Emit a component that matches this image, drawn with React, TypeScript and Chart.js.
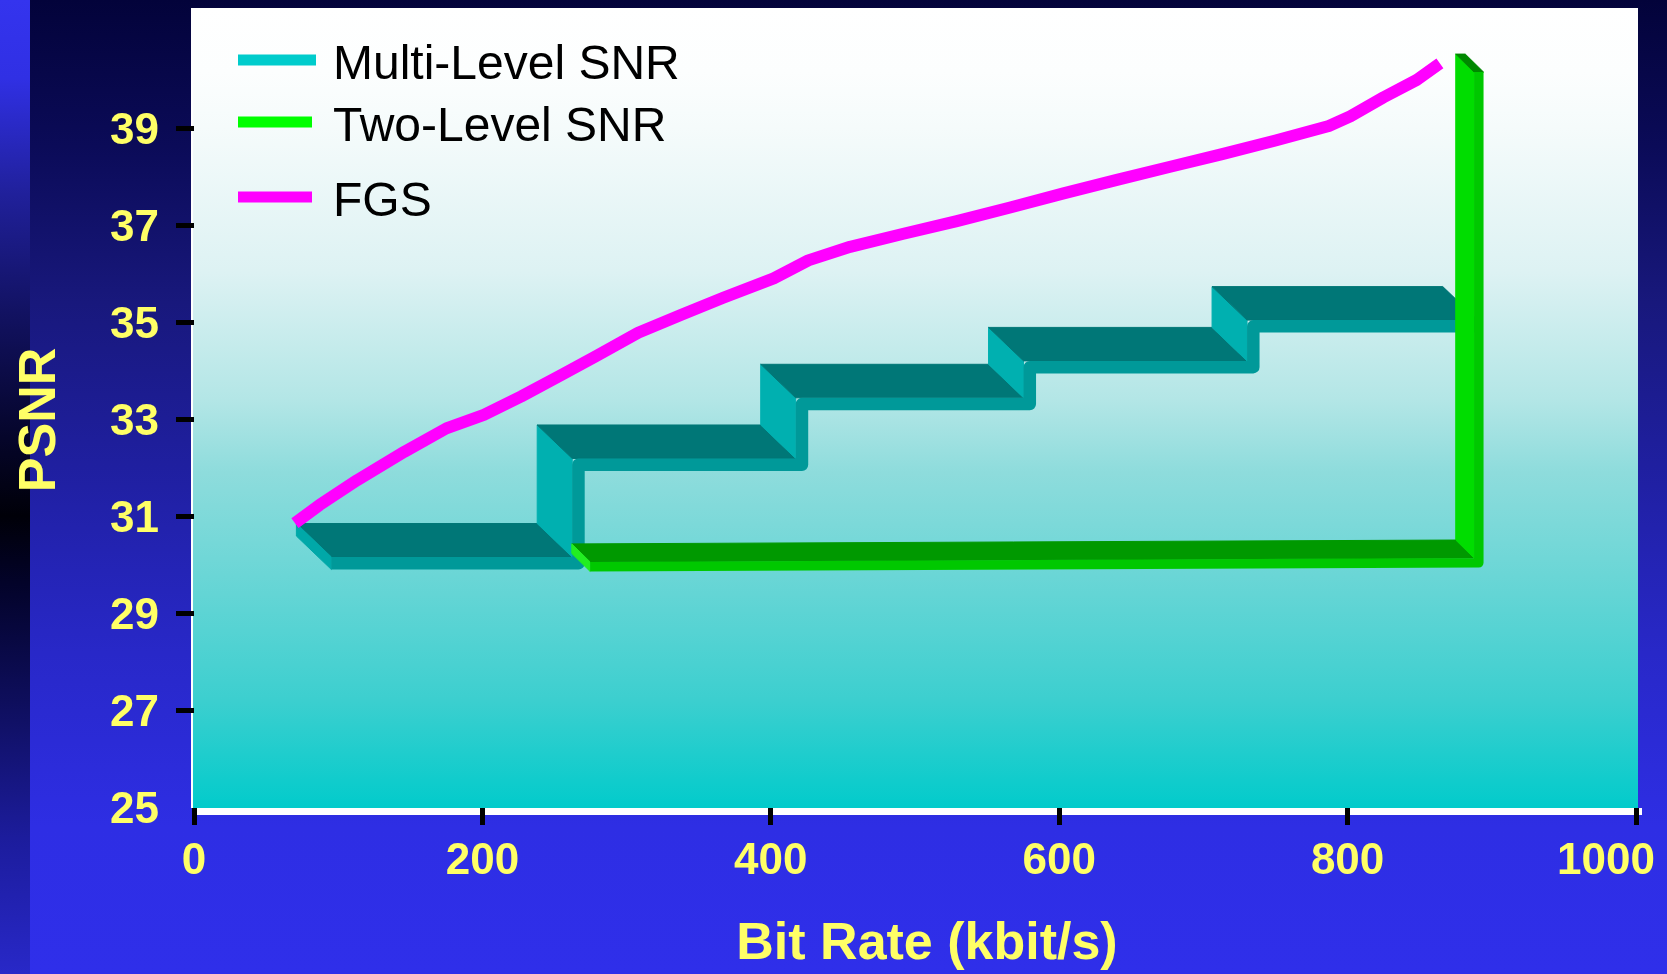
import React, { useEffect, useRef } from "react";
import { Chart, registerables } from "chart.js";

Chart.register(...registerables);

// Axis tick values
const X_TICKS = [0, 200, 400, 600, 800, 1000];
const Y_TICKS = [25, 27, 29, 31, 33, 35, 37, 39];

// Axis titles
const X_TITLE = "Bit Rate (kbit/s)";
const Y_TITLE = "PSNR";

// Multi-Level SNR: rate at which each layer starts / ends, and its PSNR plateau
const MULTI_RATES = [71, 238, 393, 551, 706, 866];
const MULTI_PSNR = [30.86, 32.89, 34.14, 34.9, 35.74];

// Two-Level SNR: base layer, then the jump to full quality
const TWO_RATES = [262, 875, 875];
const TWO_PSNR = [30.44, 30.52, 40.53];

// FGS: continuous rate/PSNR curve
const FGS_RATES = [70, 87, 113, 146, 175, 201, 227, 256, 279, 308, 338, 367, 402, 426, 455, 492, 529, 566, 603, 640, 677, 713, 750, 787, 802, 825, 848, 864];
const FGS_PSNR = [30.87, 31.24, 31.75, 32.34, 32.82, 33.1, 33.48, 33.94, 34.31, 34.79, 35.16, 35.51, 35.91, 36.28, 36.56, 36.83, 37.09, 37.37, 37.66, 37.94, 38.21, 38.47, 38.75, 39.05, 39.25, 39.64, 40.0, 40.34];

const FONT = '"Liberation Sans", Arial, Helvetica, sans-serif';
const YELLOW = "#ffff66";

type Pt = { x: number; y: number };

const stepPoints = (rates: number[], levels: number[]): Pt[] => {
  const pts: Pt[] = [];
  levels.forEach((v, i) => {
    pts.push({ x: rates[i], y: v });
    pts.push({ x: rates[i + 1], y: v });
  });
  return pts;
};

const zip = (xs: number[], ys: number[]): Pt[] => xs.map((x, i) => ({ x, y: ys[i] }));

// Slide background, the shaded back wall and the white floor edge
const backgroundPlugin = {
  id: "slideBackground",
  beforeDraw(chart: any) {
    const { ctx, width, height, chartArea } = chart;
    ctx.save();
    const g = ctx.createLinearGradient(0, 0, 0, height);
    g.addColorStop(0, "#03033a");
    g.addColorStop(0.15, "#0b0b58");
    g.addColorStop(0.31, "#18187c");
    g.addColorStop(0.5, "#2020a4");
    g.addColorStop(0.67, "#2828c8");
    g.addColorStop(0.85, "#2e2ee4");
    g.addColorStop(1, "#2f2fea");
    ctx.fillStyle = g;
    ctx.fillRect(0, 0, width, height);

    const s = ctx.createLinearGradient(0, 0, 0, height);
    s.addColorStop(0, "#3434ee");
    s.addColorStop(0.08, "#3030e4");
    s.addColorStop(0.2, "#20209a");
    s.addColorStop(0.32, "#121262");
    s.addColorStop(0.45, "#05052a");
    s.addColorStop(0.53, "#000008");
    s.addColorStop(0.6, "#03032a");
    s.addColorStop(0.72, "#0e0e5c");
    s.addColorStop(0.86, "#1c1c9c");
    s.addColorStop(1, "#2828c8");
    ctx.fillStyle = s;
    ctx.fillRect(0, 0, 30, height);

    const wl = chartArea.left - 2;
    const wr = chartArea.right + 2;
    const wt = 8;
    const wb = chartArea.bottom;
    const w = ctx.createLinearGradient(0, wt, 0, wb);
    w.addColorStop(0, "#ffffff");
    w.addColorStop(0.08, "#fcfefe");
    w.addColorStop(0.15, "#f5fbfb");
    w.addColorStop(0.33, "#ddf2f3");
    w.addColorStop(0.49, "#b3e6e6");
    w.addColorStop(0.58, "#8edcdc");
    w.addColorStop(0.71, "#6ad6d6");
    w.addColorStop(0.865, "#3ccfcf");
    w.addColorStop(1, "#02cbcb");
    ctx.fillStyle = w;
    ctx.fillRect(wl, wt, wr - wl, wb - wt);

    ctx.fillStyle = "#ffffff";
    ctx.fillRect(wl - 1, wt, 2, wb - wt);
    ctx.fillRect(wl, wb, wr - wl + 4, 7);
    ctx.restore();
  },
};

// Extruded "3-D ribbon" rendering for series that carry a ribbon style
const ribbonPlugin = {
  id: "ribbon3d",
  beforeDatasetsDraw(chart: any) {
    const ctx = chart.ctx;
    chart.data.datasets.forEach((ds: any, i: number) => {
      const r = ds.ribbon;
      if (!r) return;
      const pts: Pt[] = chart.getDatasetMeta(i).data.map((p: any) => ({ x: p.x, y: p.y }));
      if (pts.length < 2) return;
      const { dx, dy, t } = r;
      const segs = pts.slice(1).map((b, k) => {
        const a = pts[k];
        return Math.abs(b.y - a.y) > Math.abs(b.x - a.x) ? "v" : "h";
      });
      const quad = (a: Pt, b: Pt, c: Pt, d: Pt, color: string) => {
        ctx.fillStyle = color;
        ctx.strokeStyle = color;
        ctx.lineWidth = 1;
        ctx.beginPath();
        ctx.moveTo(a.x, a.y);
        ctx.lineTo(b.x, b.y);
        ctx.lineTo(c.x, c.y);
        ctx.lineTo(d.x, d.y);
        ctx.closePath();
        ctx.fill();
        ctx.stroke();
      };
      const add = (p: Pt, ox: number, oy: number): Pt => ({ x: p.x + ox, y: p.y + oy });

      ctx.save();
      // top faces (horizontal runs) and side faces (risers)
      segs.forEach((o, k) => {
        const a = pts[k];
        const b = pts[k + 1];
        quad(a, b, add(b, dx, dy), add(a, dx, dy), o === "v" ? r.side : r.top);
      });

      // visible end caps
      const first = pts[0];
      const n0 = segs[0] === "v" ? { x: t, y: 0 } : { x: 0, y: t };
      quad(first, add(first, dx, dy), add(first, dx + n0.x, dy + n0.y), add(first, n0.x, n0.y), r.cap);
      const last = pts[pts.length - 1];
      const prev = pts[pts.length - 2];
      if (segs[segs.length - 1] === "v" && last.y < prev.y) {
        quad(last, add(last, t, 0), add(last, dx + t, dy), add(last, dx, dy), r.capTop);
      }

      // front face: the thick band along the front edge
      const band = pts.map((p, k) => {
        const adj = [segs[k - 1], segs[k]].filter(Boolean);
        const ox = adj.includes("v") ? t / 2 : 0;
        const oy = adj.includes("h") ? t / 2 : 0;
        return add(p, dx + ox, dy + oy);
      });
      ctx.strokeStyle = r.front;
      ctx.lineWidth = t;
      ctx.lineJoin = "round";
      ctx.lineCap = "butt";
      ctx.beginPath();
      band.forEach((p, k) => (k === 0 ? ctx.moveTo(p.x, p.y) : ctx.lineTo(p.x, p.y)));
      ctx.stroke();
      ctx.restore();
    });
  },
};

// Rate labels (kept inside the slide edge) and both axis titles
const axisTextPlugin = {
  id: "axisText",
  afterDraw(chart: any) {
    const { ctx, width } = chart;
    const xs = chart.scales.x;
    ctx.save();
    ctx.fillStyle = YELLOW;
    ctx.font = `bold 44px ${FONT}`;
    ctx.textAlign = "center";
    ctx.textBaseline = "middle";
    X_TICKS.forEach((v) => {
      const label = String(v);
      const w = ctx.measureText(label).width;
      const px = Math.min(xs.getPixelForValue(v), width - 12 - w / 2);
      ctx.fillText(label, px, xs.top + 54);
    });

    ctx.font = `bold 52px ${FONT}`;
    ctx.fillText(X_TITLE, 927, 945);
    ctx.translate(41, 420);
    ctx.rotate(-Math.PI / 2);
    ctx.fillText(Y_TITLE, 0, 0);
    ctx.restore();
  },
};

// Legend drawn inside the plot wall, top-left
const LEGEND_ROW_Y = [60, 122, 197];
const legendPlugin = {
  id: "wallLegend",
  afterDraw(chart: any) {
    const ctx = chart.ctx;
    const left = chart.chartArea.left;
    ctx.save();
    ctx.font = `48px ${FONT}`;
    ctx.textBaseline = "alphabetic";
    ctx.textAlign = "left";
    chart.data.datasets.forEach((ds: any, i: number) => {
      const yc = LEGEND_ROW_Y[i];
      ctx.fillStyle = ds.legendColor;
      ctx.fillRect(left + 44, yc - 5.5, i === 0 ? 78 : 74, 11);
      ctx.fillStyle = "#000000";
      ctx.fillText(ds.label, left + 139, yc + 19);
    });
    ctx.restore();
  },
};

const noEdgePadding = (s: any) => {
  s.paddingLeft = 0;
  s.paddingRight = 0;
  s.paddingTop = 0;
  s.paddingBottom = 0;
};

export default function App() {
  const ref = useRef<HTMLCanvasElement>(null);

  useEffect(() => {
    if (!ref.current) return;
    const tickFont = { family: FONT, size: 44, weight: "bold" as const };

    const chart = new Chart(ref.current, {
      type: "line",
      data: {
        datasets: [
          {
            label: "Multi-Level SNR",
            data: stepPoints(MULTI_RATES, MULTI_PSNR),
            showLine: false,
            pointRadius: 0,
            legendColor: "#00cccc",
            ribbon: { dx: 35, dy: 33.5, t: 12.5, top: "#007777", side: "#00b0b0", front: "#009999", cap: "#00a8a8", capTop: "#006666" },
          } as any,
          {
            label: "Two-Level SNR",
            data: zip(TWO_RATES, TWO_PSNR),
            showLine: false,
            pointRadius: 0,
            legendColor: "#00ff00",
            ribbon: { dx: 18.3, dy: 18, t: 9.5, top: "#009900", side: "#00dd00", front: "#00c800", cap: "#22ee22", capTop: "#008800" },
          } as any,
          {
            label: "FGS",
            data: zip(FGS_RATES, FGS_PSNR),
            borderColor: "#ff00ff",
            borderWidth: 12,
            borderCapStyle: "butt",
            borderJoinStyle: "round",
            pointRadius: 0,
            tension: 0,
            legendColor: "#ff00ff",
          } as any,
        ],
      },
      options: {
        responsive: false,
        devicePixelRatio: 1,
        animation: false,
        events: [],
        layout: { padding: { top: 7, right: 31, left: 0, bottom: 0 } },
        plugins: { legend: { display: false }, tooltip: { enabled: false } },
        scales: {
          x: {
            type: "linear",
            min: 0,
            max: 1000,
            afterBuildTicks: (s: any) => {
              s.ticks = X_TICKS.map((v) => ({ value: v }));
            },
            afterFit: (s: any) => {
              s.height = 166;
              noEdgePadding(s);
            },
            grid: { drawOnChartArea: false, drawTicks: true, tickLength: 17, tickWidth: 5, tickColor: "#000000" },
            border: { display: false },
            ticks: { display: false, autoSkip: false, maxRotation: 0 },
            title: { display: false },
          },
          y: {
            type: "linear",
            min: 25,
            max: 41.5,
            afterBuildTicks: (s: any) => {
              s.ticks = Y_TICKS.map((v) => ({ value: v }));
            },
            afterFit: (s: any) => {
              s.width = 194;
              noEdgePadding(s);
            },
            grid: {
              drawOnChartArea: false,
              drawTicks: true,
              tickLength: 18,
              tickWidth: 5,
              tickColor: (c: any) => (c.tick && c.tick.value === Y_TICKS[0] ? "rgba(0,0,0,0)" : "#000000"),
            },
            border: { display: false },
            ticks: {
              color: YELLOW,
              font: tickFont,
              padding: 17,
              labelOffset: 3,
              autoSkip: false,
              callback: (v: any) => String(v),
            },
            title: { display: false },
          },
        },
      },
      plugins: [backgroundPlugin, ribbonPlugin, axisTextPlugin, legendPlugin],
    });
    return () => chart.destroy();
  }, []);

  return (
    <div style={{ position: "fixed", left: 0, top: 0, width: 1667, height: 974 }}>
      <canvas ref={ref} width={1667} height={974} style={{ display: "block", width: 1667, height: 974 }} />
    </div>
  );
}
